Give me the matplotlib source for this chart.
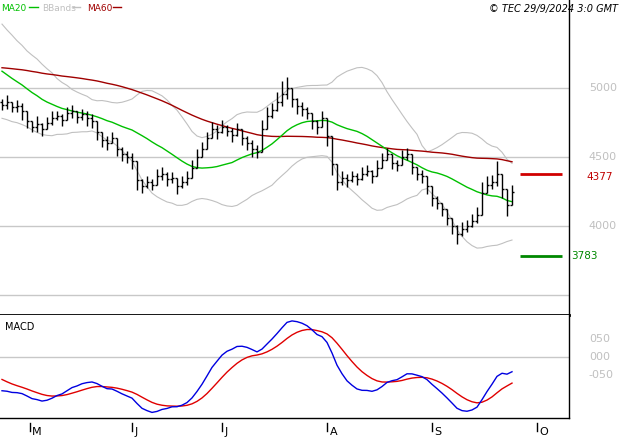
import numpy as np
import pandas as pd
import matplotlib
matplotlib.use("Agg")
import matplotlib.pyplot as plt

prehist = [5060, 5100, 5080, 5120, 5050, 5090, 5110, 5070, 5130, 5080,
           5040, 5100, 5120, 5060, 5090, 5070, 5110, 5140, 5080, 5060,
           5100, 5120, 5070, 5050, 5090, 5130, 5110, 5080, 5060, 5100,
           5150, 5200, 5250, 5300, 5350, 5380, 5420, 5400, 5450, 5430,
           5450, 5420, 5380, 5350, 5300, 5320, 5260, 5200, 5220, 5150,
           5100, 5120, 5050, 5000, 5020, 4960, 4940, 4920, 4950, 4900]
closes = [4880, 4900, 4860, 4870, 4830, 4760, 4720, 4740, 4700, 4750,
          4780, 4800, 4770, 4820, 4830, 4790, 4810, 4780, 4760, 4680,
          4620, 4600, 4640, 4560, 4520, 4500, 4470, 4330, 4290, 4320,
          4300, 4360, 4380, 4340, 4350, 4290, 4320, 4350, 4420, 4500,
          4560, 4640, 4700, 4680, 4720, 4690, 4660, 4700, 4640, 4600,
          4560, 4540, 4700, 4800, 4840, 4900, 4960, 5000, 4920, 4870,
          4850, 4820, 4760, 4720, 4780, 4650, 4450, 4320, 4350, 4330,
          4360, 4340, 4380, 4400, 4360, 4420, 4480, 4520, 4460, 4440,
          4500, 4520, 4430, 4380, 4360, 4290, 4200, 4170, 4120, 4060,
          4000, 3940, 3980, 4000, 4040, 4080, 4240, 4300, 4320, 4380,
          4270, 4150, 4250]
spread = [40, 50, 35, 45, 60, 50, 40, 55, 45, 40, 50, 35, 45, 40, 50, 45, 40, 55, 50, 60,
          45, 50, 40, 55, 50, 45, 60, 70, 50, 45, 40, 55, 45, 50, 40, 60, 45, 50, 55, 60,
          50, 45, 55, 50, 45, 40, 50, 45, 55, 50, 60, 45, 70, 60, 55, 70, 90, 80, 60, 55,
          50, 45, 60, 50, 55, 70, 80, 60, 50, 45, 40, 45, 50, 40, 45, 55, 50, 45, 50, 40,
          50, 45, 55, 50, 45, 60, 55, 50, 45, 55, 60, 70, 50, 45, 50, 55, 80, 60, 50, 90,
          70, 80, 50]
month_labels = ["M", "J", "J", "A", "S", "O"]
month_pos = [5.5, 26, 44, 65, 86, 107]
ma60_last, bb_low_mark = 4377, 3783
price_ticks = [4000, 4500, 5000]
macd_ticks = [0.5, 0.0, -0.5]
macd_labels = ["050", "000", "-050"]

allc = pd.Series(prehist + closes, dtype=float)
n0 = len(prehist)
ma20 = allc.rolling(20).mean().values[n0:]
ma60 = allc.rolling(60).mean().values[n0:]
sd20 = allc.rolling(20).std(ddof=0).values[n0:]
bbu, bbl = ma20 + 2 * sd20, ma20 - 2 * sd20
ema12 = allc.ewm(span=12, adjust=False).mean()
ema26 = allc.ewm(span=26, adjust=False).mean()
macd = (ema12 - ema26) / 100
sig = macd.ewm(span=9, adjust=False).mean()
macd, sig = macd.values[n0:], sig.values[n0:]

c = np.array(closes, float)
s = np.array(spread, float)
o = np.concatenate([[prehist[-1]], c[:-1]])
hi = np.maximum(np.maximum(o, c), c + s)
lo = np.minimum(np.minimum(o, c), c - s)
x = np.arange(len(c))

fig = plt.figure(figsize=(6.27, 4.4), dpi=100)
ax = fig.add_axes([0, 0.284, 0.9075, 0.716])
ax2 = fig.add_axes([0, 0.05, 0.9075, 0.234])
xlim = (-0.4, 113.4)
grey = "#c8c8c8"

for a in (ax, ax2):
    a.set_xlim(*xlim)
    a.set_xticks([])
    a.set_yticks([])
    for sp in a.spines.values():
        sp.set_color("black")
        sp.set_linewidth(1)
    a.spines["left"].set_visible(False)
    a.spines["top"].set_visible(False)
ax.spines["bottom"].set_linewidth(2)

ax.set_ylim(3355, 5638)
for t in price_ticks + [3500]:
    ax.axhline(t, color=grey, lw=1, zorder=0)
ax.plot(x, bbu, color="#c0c0c0", lw=0.8)
ax.plot(x, bbl, color="#c0c0c0", lw=0.8)
ax.plot(x, ma60, color="#a00000", lw=1)
ax.plot(x, ma20, color="#00c000", lw=1)
ax.vlines(x, lo, hi, color="black", lw=1)
ax.hlines(o, x - 0.4, x, color="black", lw=1)
ax.hlines(c, x, x + 0.4, color="black", lw=1)
ax.hlines(ma60_last, 103.5, 112, color="#d00000", lw=2)
ax.hlines(bb_low_mark, 103.5, 112, color="#008800", lw=2)
for t in price_ticks:
    ax.text(1.035, t, f"{t}", transform=ax.get_yaxis_transform(), color="#c0c0c0",
            fontsize=8, va="center", ha="left")
ax.text(1.03, ma60_last - 20, f"{ma60_last}", transform=ax.get_yaxis_transform(),
        color="#c00000", fontsize=7.5, va="center")
ax.text(1.003, bb_low_mark, f"{bb_low_mark}", transform=ax.get_yaxis_transform(),
        color="#008800", fontsize=7.5, va="center")

fig.text(0.002, 0.992, "MA20", color="#00c000", fontsize=6.5, va="top")
fig.add_artist(plt.Line2D([0.047, 0.06], [0.984, 0.984], color="#00c000", lw=1))
fig.text(0.067, 0.992, "BBands", color="#c0c0c0", fontsize=6.5, va="top")
fig.add_artist(plt.Line2D([0.116, 0.128], [0.984, 0.984], color="#c0c0c0", lw=1))
fig.text(0.139, 0.992, "MA60", color="#a00000", fontsize=6.5, va="top")
fig.add_artist(plt.Line2D([0.181, 0.193], [0.984, 0.984], color="#a00000", lw=1))
fig.text(0.985, 0.992, "© TEC 29/9/2024 3:0 GMT", fontsize=7, style="italic",
         ha="right", va="top")

ax2.set_ylim(-1.65, 1.135)
ax2.axhline(0, color=grey, lw=1, zorder=0)
ax2.plot(x, sig, color="#e00000", lw=1)
ax2.plot(x, macd, color="#0000e0", lw=1)
ax2.text(0.008, 0.88, "MACD", transform=ax2.transAxes, fontsize=7, va="center")
for t, lab in zip(macd_ticks, macd_labels):
    ax2.text(1.035, t, lab, transform=ax2.get_yaxis_transform(), color="#c0c0c0",
             fontsize=8, va="center")

for lab, p in zip(month_labels, month_pos):
    ax2.plot([p, p], [-0.05, -0.13], transform=ax2.get_xaxis_transform(),
             color="black", lw=1, clip_on=False)
    ax2.text(p + 0.5, -0.14, lab, transform=ax2.get_xaxis_transform(), fontsize=8,
             va="center", ha="left")

fig.savefig("out.png", dpi=100)
